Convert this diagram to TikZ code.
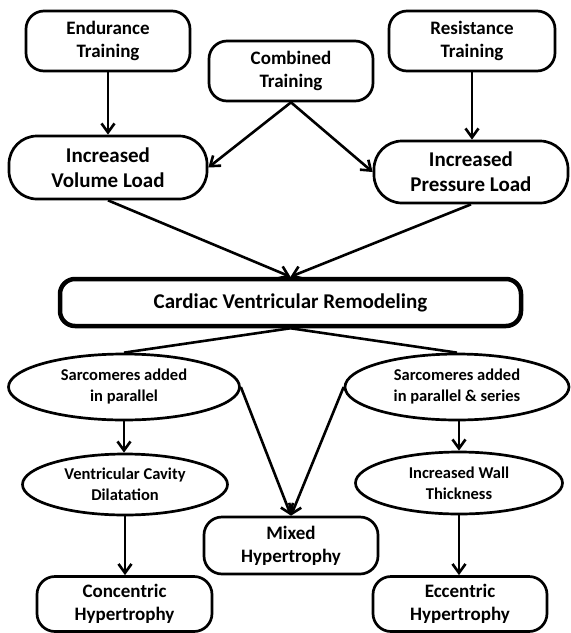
\documentclass[tikz,border=0pt]{standalone}
\usepackage{fontspec}
\setmainfont{Carlito}
\usetikzlibrary{arrows.meta,shapes.geometric}
\begin{document}
\begin{tikzpicture}[x=1pt,y=-1pt,
  every node/.style={inner sep=0pt, align=center, font=\bfseries},
  rbox/.style={draw, rectangle, line width=2.7pt, rounded corners=18pt},
  smallfont/.style={font=\fontsize{19}{23}\selectfont\bfseries},
  bigfont/.style={font=\fontsize{21}{25}\selectfont\bfseries},
  ellfont/.style={font=\fontsize{16.5}{21}\selectfont\bfseries},
  ell/.style={draw, ellipse, line width=2.7pt, ellfont},
  arr/.style={line width=2.6pt, -{Straight Barb[length=9pt,width=13pt,line width=2.6pt]}},
  conn/.style={line width=2.6pt}
]
\useasboundingbox (0,0) rectangle (571,633);
\node[rbox, smallfont, minimum width=164pt, minimum height=60pt] (end) at (108,41) {Endurance\\Training};
\node[rbox, smallfont, minimum width=164pt, minimum height=60pt] (comb) at (291,71) {Combined\\Training};
\node[rbox, smallfont, minimum width=166pt, minimum height=60pt] (res) at (472,41) {Resistance\\Training};
\node[rbox, bigfont, rounded corners=28pt, minimum width=198pt, minimum height=63pt] (vol) at (108,167.5) {Increased\\Volume Load};
\node[rbox, bigfont, rounded corners=28pt, minimum width=194pt, minimum height=62pt] (pres) at (471,172) {Increased\\Pressure Load};
\node[rbox, bigfont, line width=4.5pt, rounded corners=15pt, minimum width=461pt, minimum height=47pt] (card) at (290.5,302.5) {Cardiac Ventricular Remodeling};
\node[ell, minimum width=231pt, minimum height=66pt] (sp) at (124,387) {Sarcomeres added\\in parallel};
\node[ell, minimum width=224pt, minimum height=66pt] (sps) at (457,387) {Sarcomeres added\\in parallel \& series};
\node[ell, minimum width=205pt, minimum height=61pt] (vcd) at (125,484.5) {Ventricular Cavity\\Dilatation};
\node[ell, minimum width=207pt, minimum height=62pt] (iwt) at (459,483) {Increased Wall\\Thickness};
\node[rbox, smallfont, minimum width=174pt, minimum height=57pt] (mix) at (291,545.5) {Mixed\\Hypertrophy};
\node[rbox, smallfont, minimum width=175pt, minimum height=55pt] (conc) at (124.5,604) {Concentric\\Hypertrophy};
\node[rbox, smallfont, minimum width=174pt, minimum height=55pt] (ecc) at (460,604) {Eccentric\\Hypertrophy};
\draw[arr] (end) -- (vol);
\draw[arr] (res.south) -- (res.south |- pres.north);
\draw[arr] (comb.south) -- (vol.east);
\draw[arr] (comb.south) -- (pres.west);
\draw[arr] (vol.south) -- (card.north);
\draw[arr] (pres.south) -- (card.north);
\draw[conn] (card.south) -- (sp.north);
\draw[conn] (card.south) -- (sps.north);
\draw[arr] (sp.south) -- (sp.south |- vcd.north);
\draw[arr] (sp.east) -- (mix.north);
\draw[arr] (sps.west) -- (mix.north);
\draw[arr] (iwt.north |- sps.south) -- (iwt.north);
\draw[arr] (vcd.south) -- (vcd.south |- conc.north);
\draw[arr] (iwt.south) -- (iwt.south |- ecc.north);
\end{tikzpicture}
\end{document}
